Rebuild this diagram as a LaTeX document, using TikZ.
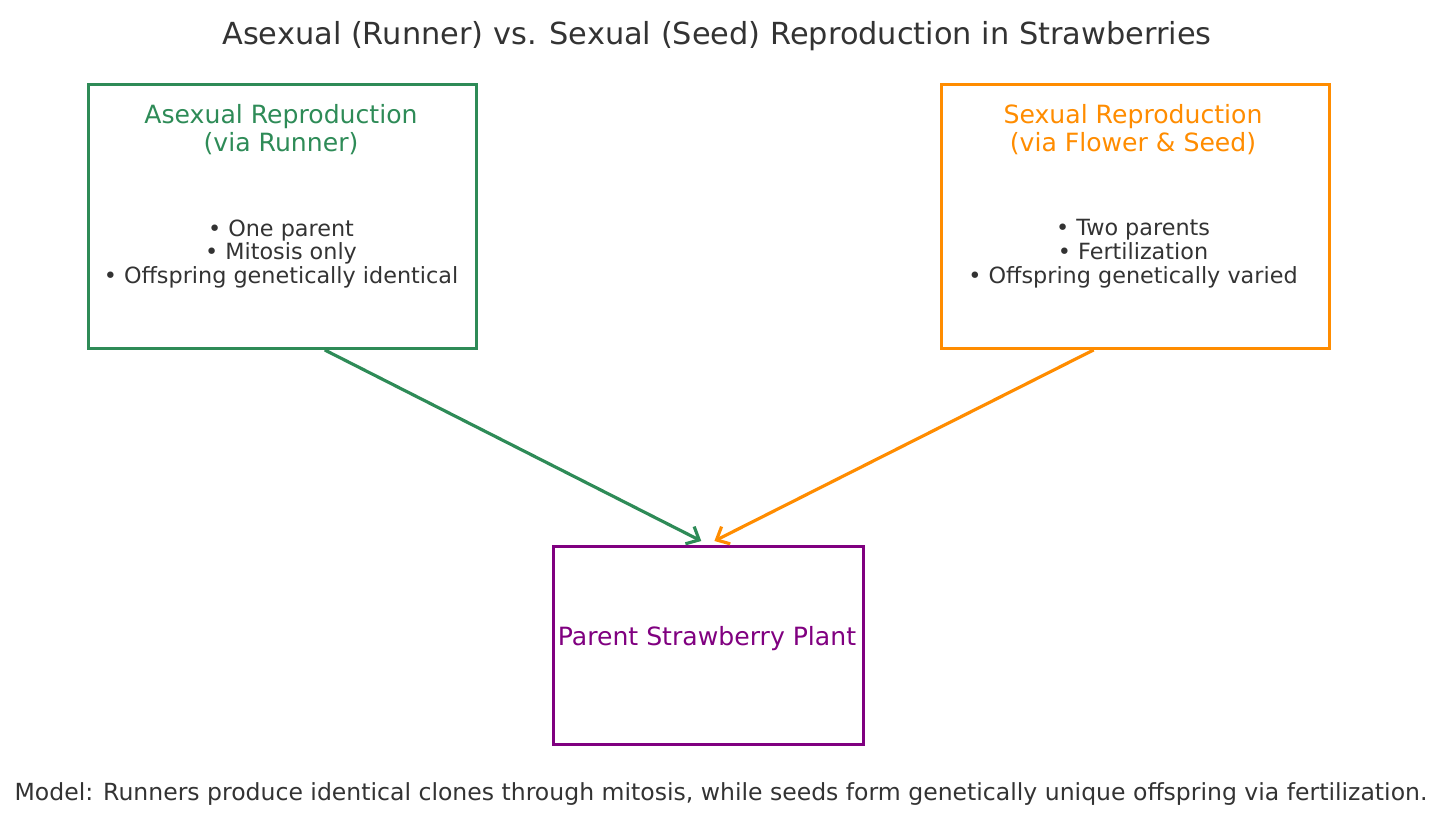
\documentclass[tikz,border=0pt]{standalone}
\usepackage{fontspec}
\setmainfont{DejaVu Sans}
\usetikzlibrary{arrows.meta,calc}
\definecolor{asexgreen}{HTML}{2E8B57}
\definecolor{sexorange}{HTML}{FF8C00}
\definecolor{plantpurple}{HTML}{800080}
\definecolor{txtgray}{HTML}{333333}
\begin{document}
\begin{tikzpicture}[
  x=0.02cm, y=-0.02cm,
  box/.style={draw, line width=1.7pt, minimum width=7.76cm, minimum height=5.28cm, inner sep=0pt, anchor=north west},
  head/.style={align=center, font=\fontsize{14.3}{15.9}\selectfont, inner sep=0pt},
  pts/.style={align=center, text=txtgray, font=\fontsize{12.7}{13.6}\selectfont, inner sep=0pt},
  link/.style={line width=1.8pt, -{Straight Barb[length=6pt,width=11pt,line width=1.8pt]}}
]
\useasboundingbox (0,0) rectangle (1442,827);
% titel
\node[text=txtgray, font=\fontsize{17.3}{20}\selectfont] (titel) at (717,36) {Asexual (Runner) vs. Sexual (Seed) Reproduction in Strawberries};
% ungeschlechtlich
\node[box, draw=asexgreen] (asex) at (87,83) {};
\node[head, text=asexgreen] (asexkopf) at (281,130) {Asexual Reproduction\\(via Runner)};
\node[pts] (asexpkt) at (281,254) {• One parent\\• Mitosis only\\• Offspring genetically identical};
% geschlechtlich
\node[box, draw=sexorange] (sex) at (940,83) {};
\node[head, text=sexorange] (sexkopf) at (1133,130) {Sexual Reproduction\\(via Flower \& Seed)};
\node[pts] (sexpkt) at (1133,254) {• Two parents\\• Fertilization\\• Offspring genetically varied};
% mutterpflanze
\node[box, draw=plantpurple, minimum width=6.2cm, minimum height=3.96cm] (pflanze) at (552,545) {};
\node[head, text=plantpurple] (pflanzetxt) at (707,639) {Parent Strawberry Plant};
% pfeile
\draw[link, asexgreen] ($(asex.south west)!0.608!(asex.south east)$) -- ($(pflanze.north west)!0.477!(pflanze.north east)+(0,-4)$);
\draw[link, sexorange] ($(sex.south west)!0.393!(sex.south east)$) -- ($(pflanze.north west)!0.519!(pflanze.north east)+(0,-4)$);
% fusszeile
\node[text=txtgray, font=\fontsize{13.4}{15}\selectfont] (fuss) at (721,794) {Model: Runners produce identical clones through mitosis, while seeds form genetically unique offspring via fertilization.};
\end{tikzpicture}
\end{document}
